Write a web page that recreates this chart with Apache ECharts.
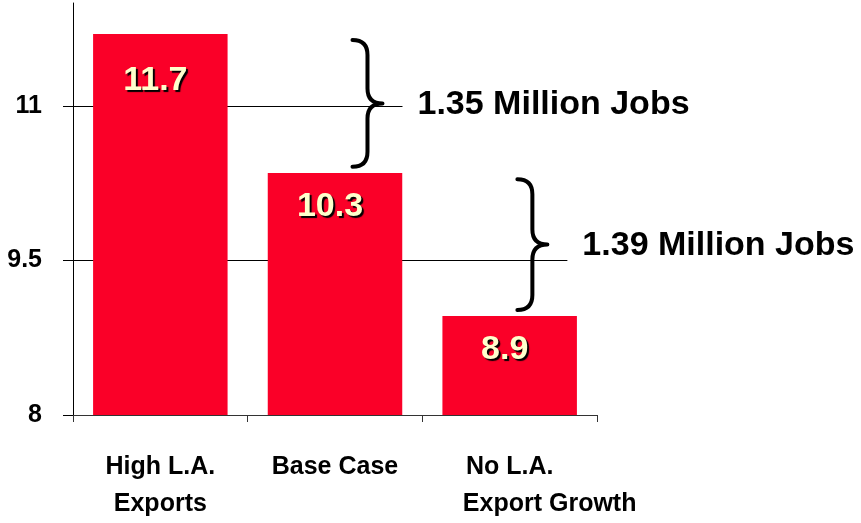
<!DOCTYPE html>
<html>
<head>
<meta charset="utf-8">
<script src="https://cdn.jsdelivr.net/npm/echarts@6/dist/echarts.min.js"></script>
<style>
html,body{margin:0;padding:0;background:#fff;}
#chart{width:861px;height:523px;}
</style>
</head>
<body>
<div id="chart"></div>
<script>
// ---- data ----
const categories = ['High L.A.\nExports', 'Base Case', 'No L.A.\nExport Growth'];
const values = [11.70, 10.35, 8.96];
const barLabels = ['11.7', '10.3', '8.9'];
const yTicks = [8, 9.5, 11];
const braceTexts = ['1.35 Million Jobs', '1.39 Million Jobs'];

// ---- layout / style (not data) ----
const FONT = '"Liberation Sans", Arial, sans-serif';
const braceLayout = [
  { cat: 1, spine: 0.186, inset: 0.06 },
  { cat: 2, spine: 0.13, inset: 0.06 }
];
const braceData = braceTexts.map((t, i) => [braceLayout[i].cat, values[i], values[i + 1], i]);

const chart = echarts.init(document.getElementById('chart'), null, { renderer: 'canvas' });

const option = {
  animation: false,
  backgroundColor: '#fff',
  grid: { left: 73, right: 264, top: 3, bottom: 101, containLabel: false },
  xAxis: {
    type: 'category',
    data: categories,
    boundaryGap: true,
    axisLine: { lineStyle: { color: '#333', width: 1 } },
    axisTick: { show: true, length: 7, interval: 0, lineStyle: { color: '#333' } },
    axisLabel: {
      interval: 0,
      margin: 34,
      color: '#000',
      fontFamily: FONT,
      fontWeight: 'bold',
      fontSize: 25,
      lineHeight: 37,
      formatter: function (v, idx) {
        if (idx === 2) {
          const parts = v.split('\n');
          return '{a|' + parts[0] + '}\n{b|' + parts[1] + '}';
        }
        return v;
      },
      rich: {
        a: { fontFamily: FONT, fontWeight: 'bold', fontSize: 25, lineHeight: 37, color: '#000' },
        b: { fontFamily: FONT, fontWeight: 'bold', fontSize: 25, lineHeight: 37, color: '#000', padding: [0, 0, 0, 80] }
      }
    },
    splitLine: { show: false }
  },
  yAxis: {
    type: 'value',
    min: 8,
    max: 12,
    interval: 1.5,
    axisLine: { show: true, lineStyle: { color: '#000', width: 1 } },
    axisTick: { show: true, inside: false, length: 10, customValues: yTicks, lineStyle: { color: '#000' } },
    axisLabel: {
      margin: 31,
      color: '#000',
      fontFamily: FONT,
      fontWeight: 'bold',
      fontSize: 25,
      customValues: yTicks,
      formatter: function (v) { return yTicks.indexOf(v) >= 0 ? String(v) : ''; }
    },
    splitLine: {
      show: true,
      lineStyle: { color: '#000', width: 1 }
    }
  },
  series: [
    {
      type: 'bar',
      data: values.map((v, i) => ({
        value: v,
        label: { distance: i === 0 ? 30 : 17 }
      })),
      barCategoryGap: '23%',
      itemStyle: { color: '#FA0028' },
      z: 2,
      label: {
        show: true,
        position: 'insideTop',
        offset: [-5, 0],
        formatter: function (p) { return barLabels[p.dataIndex]; },
        color: '#FFFFCC',
        fontFamily: FONT,
        fontWeight: 'bold',
        fontSize: 34,
        textShadowColor: '#000',
        textShadowOffsetX: 2,
        textShadowOffsetY: 2,
        textShadowBlur: 1
      }
    },
    {
      type: 'custom',
      coordinateSystem: 'cartesian2d',
      clip: false,
      z: 10,
      silent: true,
      data: braceData,
      encode: { x: 0, y: [1, 2] },
      renderItem: function (params, api) {
        const cat = api.value(0);
        const hi = api.value(1);
        const lo = api.value(2);
        const k = api.value(3);
        const lay = braceLayout[k];
        const band = api.size([1, 0])[0];
        const c = api.coord([cat, hi - lay.inset]);
        const yt = c[1];
        const yb = api.coord([cat, lo + lay.inset])[1];
        const ym = (yt + yb) / 2;
        const sx = c[0] + lay.spine * band;
        const w = 15;
        const path =
          'M' + (sx - w) + ',' + yt +
          ' Q' + sx + ',' + yt + ' ' + sx + ',' + (yt + w) +
          ' L' + sx + ',' + (ym - w) +
          ' Q' + sx + ',' + ym + ' ' + (sx + w) + ',' + ym +
          ' Q' + sx + ',' + ym + ' ' + sx + ',' + (ym + w) +
          ' L' + sx + ',' + (yb - w) +
          ' Q' + sx + ',' + yb + ' ' + (sx - w) + ',' + yb;
        return {
          type: 'group',
          children: [
            {
              type: 'text',
              z2: 1,
              style: {
                text: braceTexts[k],
                x: sx + w + 20,
                y: ym + 1,
                align: 'left',
                verticalAlign: 'middle',
                font: 'bold 34px ' + FONT,
                fill: '#000',
                backgroundColor: '#fff',
                padding: [6, 10, 32, 15]
              }
            },
            {
              type: 'path',
              z2: 2,
              shape: { pathData: path },
              style: { fill: null, stroke: '#000', lineWidth: 4, lineCap: 'round', lineJoin: 'round' }
            }
          ]
        };
      }
    }
  ]
};
chart.setOption(option);
</script>
</body>
</html>
